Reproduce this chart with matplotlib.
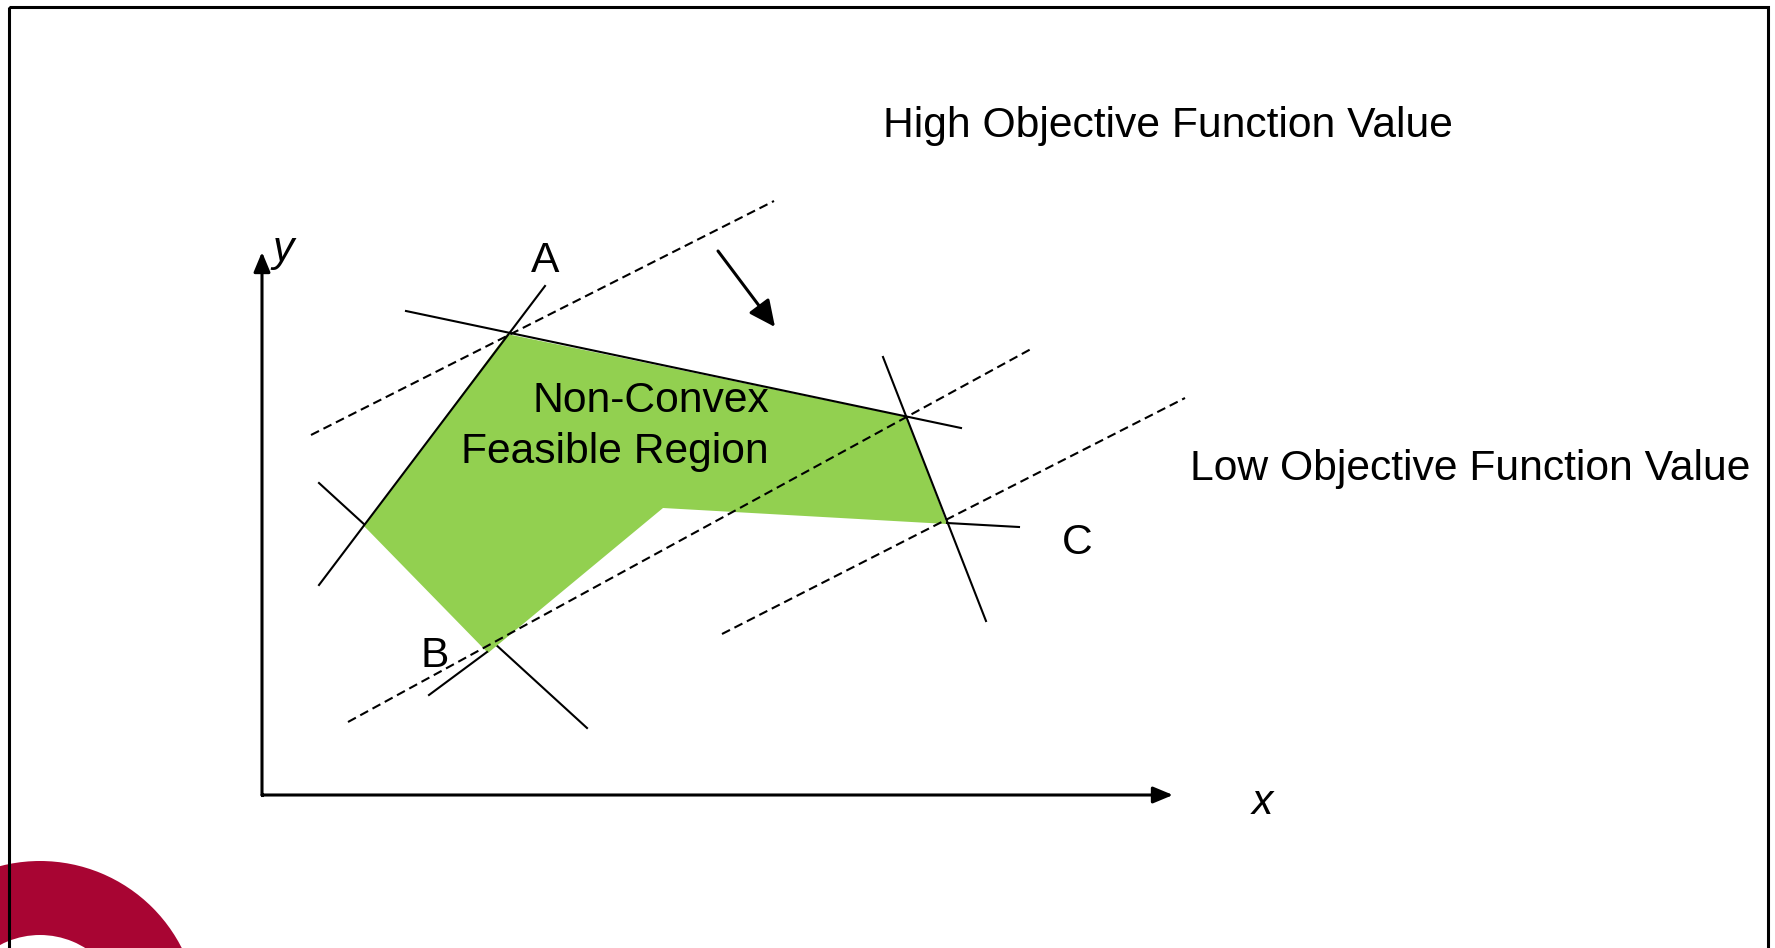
import matplotlib.pyplot as plt
from matplotlib.patches import Polygon, Wedge, Rectangle

plt.rcParams['font.family'] = ['Liberation Sans', 'DejaVu Sans']

# picture coordinates (pixels, y downwards)
region_x = [507, 907, 947, 663, 488, 364]
region_y = [334, 417, 524, 508, 653, 526]

# constraint lines (x0, y0, x1, y1)
constraint_lines = [
    (319, 585, 545, 286),   # through A
    (406, 311, 961, 428),   # top edge
    (319, 483, 587, 728),   # left vertex -> B
    (429, 695, 487, 652),   # at B
    (883, 357, 986, 621),   # right edge
    (947, 523, 1019, 527),  # at C
]
# objective contours
objective_lines = [
    (311, 435, 774, 201),
    (348, 722, 1031, 349),
    (722, 634, 1185, 398),
]
origin = (262, 795)
x_axis_end = (1173, 795)
y_axis_end = (262, 252)
move_arrow = (718, 251, 775, 327)

point_labels = ["A", "B", "C"]
point_label_pos = [(545, 261), (435, 656), (1077, 543)]

fig = plt.figure(figsize=(17.75, 9.48), dpi=100)
ax = fig.add_axes([0, 0, 1, 1])
ax.set_xlim(0, 1775)
ax.set_ylim(948, 0)
ax.axis('off')

# logo ring in the corner
ax.add_patch(Wedge((40, 1020), 159, 0, 360, width=74, facecolor='#a80533', edgecolor='none', zorder=1))
# frame
ax.add_patch(Rectangle((9, 7), 1759, 1000, fill=False, edgecolor='black', linewidth=2.2, zorder=5))

# constraint line hidden under the region first
x0, y0, x1, y1 = constraint_lines[2]
ax.plot([x0, x1], [y0, y1], color='black', lw=1.5, zorder=2)

ax.add_patch(Polygon(list(zip(region_x, region_y)), closed=True, facecolor='#92d050', edgecolor='none', zorder=3))

for i, (x0, y0, x1, y1) in enumerate(constraint_lines):
    if i == 2:
        continue
    ax.plot([x0, x1], [y0, y1], color='black', lw=1.5, zorder=4)

for x0, y0, x1, y1 in objective_lines:
    ax.plot([x0, x1], [y0, y1], color='black', lw=1.5, dashes=(4.3, 2.4), zorder=4)

# axes arrows
for end in (x_axis_end, y_axis_end):
    ax.annotate('', xy=end, xytext=origin,
                arrowprops=dict(arrowstyle='-|>,head_length=0.6,head_width=0.25', color='black',
                                lw=2.2, shrinkA=0, shrinkB=0, mutation_scale=20), zorder=4)
ax.plot([origin[0], origin[0]], [origin[1], origin[1] - 1], color='black', lw=2.2,
        solid_capstyle='projecting', zorder=4)

ax.annotate('', xy=move_arrow[2:], xytext=move_arrow[:2],
            arrowprops=dict(arrowstyle='-|>,head_length=0.8,head_width=0.38', color='black',
                            lw=2.2, shrinkA=0, shrinkB=0, mutation_scale=20), zorder=4)

fs = 30.7
ax.text(1262, 803, 'x', fontsize=fs, style='italic', ha='center', va='center', zorder=6)
ax.text(283, 250, 'y', fontsize=fs, style='italic', ha='center', va='center', zorder=6)
for lab, (px, py) in zip(point_labels, point_label_pos):
    ax.text(px, py, lab, fontsize=fs, ha='center', va='center', zorder=6)

ax.text(883, 126, 'High Objective Function Value', fontsize=fs, ha='left', va='center', zorder=6)
ax.text(1190, 469, 'Low Objective Function Value', fontsize=fs, ha='left', va='center', zorder=6)
ax.text(769, 401, 'Non-Convex', fontsize=fs, ha='right', va='center', zorder=6)
ax.text(769, 452, 'Feasible Region', fontsize=fs, ha='right', va='center', zorder=6)

fig.savefig('out.png', dpi=100)
